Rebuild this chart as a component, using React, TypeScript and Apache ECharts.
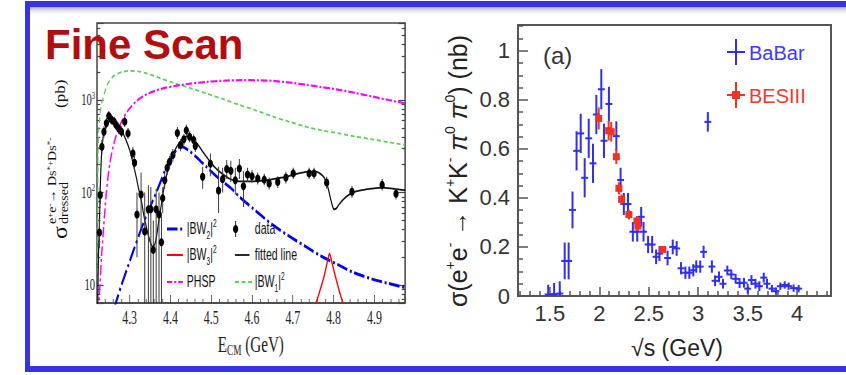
import React, { useEffect, useRef } from 'react';
import * as echarts from 'echarts';

// ---------------- Left panel (fine scan, log scale) ----------------
// [E (GeV), sigma (pb), lower, upper]
const fineScanData = [
  [4.226, 37, 25, 52], [4.228, 94, 75, 115], [4.232, 312, 260, 370], [4.237, 454, 390, 520],
  [4.243, 560, 490, 640], [4.249, 672, 590, 760], [4.255, 617, 540, 700], [4.262, 584, 510, 660],
  [4.267, 537, 470, 610], [4.273, 494, 430, 560], [4.28, 454, 395, 520], [4.288, 584, 510, 660],
  [4.296, 436, 380, 500], [4.308, 265, 225, 310], [4.312, 210, 170, 255], [4.318, 58, 20, 100],
  [4.328, 95, 40, 165], [4.337, 38, 5, 100], [4.346, 66, 5, 120], [4.352, 66, 5, 115],
  [4.358, 24, 5, 50], [4.365, 66, 5, 110], [4.372, 58, 5, 100], [4.378, 29, 5, 60],
  [4.381, 87, 60, 115], [4.386, 136, 110, 165], [4.392, 185, 155, 220], [4.398, 215, 180, 250],
  [4.406, 254, 215, 295], [4.417, 440, 380, 510], [4.425, 327, 280, 380], [4.433, 376, 325, 430],
  [4.439, 470, 410, 540], [4.447, 401, 350, 460], [4.457, 370, 320, 425], [4.461, 318, 275, 365],
  [4.479, 148, 110, 190], [4.498, 205, 150, 265], [4.518, 105, 60, 190], [4.528, 140, 100, 185],
  [4.538, 180, 140, 225], [4.548, 172, 130, 220], [4.559, 136, 95, 185], [4.569, 182, 140, 230],
  [4.579, 117, 70, 170], [4.589, 157, 130, 185], [4.6, 150, 128, 175], [4.614, 142, 122, 165],
  [4.63, 138, 120, 160], [4.642, 125, 108, 145], [4.663, 130, 112, 150], [4.683, 145, 125, 168],
  [4.701, 161, 140, 185], [4.74, 161, 140, 185], [4.752, 161, 140, 185], [4.783, 128, 110, 148],
  [4.845, 102, 88, 118], [4.919, 121, 105, 140], [4.953, 97, 84, 112],
];

const fittedLine = [
  [4.2215, 5], [4.2235, 20], [4.226, 45], [4.228, 110], [4.231, 250], [4.235, 400], [4.24, 500],
  [4.247, 580], [4.255, 610], [4.262, 590], [4.27, 540], [4.28, 470], [4.29, 380], [4.3, 290],
  [4.308, 210], [4.316, 148], [4.322, 110], [4.329, 80], [4.335, 56], [4.341, 42], [4.347, 33],
  [4.352, 28], [4.357, 26], [4.362, 28], [4.367, 36], [4.373, 55], [4.378, 75], [4.383, 105],
  [4.39, 150], [4.398, 205], [4.405, 250], [4.414, 305], [4.424, 355], [4.435, 395], [4.442, 405],
  [4.45, 395], [4.46, 360], [4.471, 313], [4.483, 262], [4.496, 220], [4.51, 185], [4.528, 158],
  [4.545, 141], [4.56, 134], [4.58, 132], [4.6, 132], [4.62, 134], [4.64, 137], [4.66, 142],
  [4.683, 148], [4.7, 155], [4.72, 163], [4.74, 168], [4.757, 168], [4.767, 160], [4.777, 145],
  [4.785, 118], [4.792, 88], [4.797, 72], [4.801, 66], [4.806, 67], [4.813, 74], [4.825, 85],
  [4.838, 95], [4.855, 103], [4.879, 108], [4.9, 111], [4.919, 113], [4.94, 111], [4.96, 108],
  [4.975, 106],
];

const bw1Line = [
  [4.2215, 5], [4.2225, 250], [4.224, 450], [4.227, 650], [4.23, 860], [4.235, 1050],
  [4.243, 1390], [4.25, 1600], [4.259, 1790], [4.27, 1930], [4.284, 2020], [4.3, 2070],
  [4.32, 2040], [4.34, 1950], [4.37, 1760], [4.406, 1540], [4.45, 1340], [4.488, 1180],
  [4.53, 1020], [4.569, 885], [4.61, 770], [4.65, 665], [4.69, 585], [4.732, 515], [4.77, 470],
  [4.813, 436], [4.85, 405], [4.895, 376], [4.935, 350], [4.975, 327],
];

const phspLine = [
  [4.2225, 5], [4.227, 9.6], [4.231, 20], [4.237, 46], [4.243, 100], [4.251, 200], [4.263, 360],
  [4.28, 580], [4.296, 770], [4.32, 1000], [4.345, 1170], [4.38, 1330], [4.42, 1440],
  [4.447, 1500], [4.49, 1570], [4.528, 1615], [4.577, 1640], [4.62, 1630], [4.65, 1610],
  [4.7, 1530], [4.732, 1460], [4.77, 1380], [4.813, 1290], [4.85, 1200], [4.895, 1090],
  [4.935, 1000], [4.975, 920],
];

const bw2Line = [
  [4.262, 5.5], [4.267, 6.6], [4.28, 10], [4.296, 16], [4.31, 24], [4.329, 41], [4.345, 62],
  [4.361, 90], [4.375, 128], [4.386, 170], [4.398, 220], [4.41, 268], [4.418, 300], [4.425, 315],
  [4.432, 310], [4.445, 285], [4.46, 250], [4.488, 190], [4.52, 140], [4.55, 110], [4.569, 90],
  [4.61, 63], [4.65, 45], [4.69, 34], [4.732, 26], [4.77, 20.5], [4.813, 16.4], [4.85, 13.6],
  [4.895, 11.6], [4.935, 10.4], [4.975, 9.4],
];

const bw3Line = [
  [4.752, 5.5], [4.765, 8.3], [4.777, 12.6], [4.786, 19], [4.79, 22], [4.794, 19], [4.804, 12.6],
  [4.815, 8.3], [4.828, 5.5],
];

const fineXRange = [4.22, 4.975];
const fineYRange = [6.4, 6800];
const logTickLabels: Record<number, string> = { 10: '{b|10}', 100: '{b|10}{sup|2}', 1000: '{b|10}{sup|3}' };

// ---------------- Right panel (K+K-pi0pi0) ----------------
// [sqrt(s) (GeV), sigma (nb), error]
const babarData = [
  [1.483, 0.006, 0.04], [1.543, 0.008, 0.045], [1.6, 0.01, 0.05], [1.65, 0.143, 0.075],
  [1.69, 0.143, 0.075], [1.729, 0.351, 0.075], [1.77, 0.592, 0.08], [1.812, 0.663, 0.08],
  [1.852, 0.482, 0.08], [1.893, 0.643, 0.08], [1.936, 0.541, 0.08], [1.97, 0.74, 0.08],
  [2.02, 0.843, 0.082], [2.047, 0.633, 0.07], [2.097, 0.783, 0.07], [2.172, 0.652, 0.06],
  [2.215, 0.473, 0.05], [2.248, 0.375, 0.045], [2.29, 0.375, 0.045], [2.339, 0.262, 0.04],
  [2.383, 0.262, 0.04], [2.423, 0.323, 0.04], [2.447, 0.262, 0.04], [2.493, 0.21, 0.035],
  [2.534, 0.21, 0.035], [2.574, 0.16, 0.03], [2.608, 0.173, 0.03], [2.69, 0.155, 0.03],
  [2.742, 0.2, 0.03], [2.782, 0.194, 0.03], [2.826, 0.113, 0.025], [2.87, 0.095, 0.025],
  [2.91, 0.095, 0.025], [2.95, 0.105, 0.025], [2.98, 0.12, 0.025], [3.02, 0.12, 0.025],
  [3.054, 0.18, 0.025], [3.097, 0.71, 0.04], [3.138, 0.12, 0.025], [3.17, 0.062, 0.022],
  [3.21, 0.078, 0.022], [3.25, 0.05, 0.02], [3.294, 0.104, 0.02], [3.334, 0.088, 0.02],
  [3.378, 0.07, 0.02], [3.418, 0.053, 0.02], [3.462, 0.054, 0.02], [3.5, 0.03, 0.02],
  [3.538, 0.065, 0.02], [3.578, 0.05, 0.02], [3.618, 0.04, 0.02], [3.662, 0.075, 0.02],
  [3.695, 0.05, 0.02], [3.745, 0.03, 0.015], [3.786, 0.02, 0.015], [3.83, 0.04, 0.015],
  [3.874, 0.045, 0.015], [3.914, 0.04, 0.015], [3.964, 0.032, 0.015], [4.015, 0.03, 0.015],
];

const besData = [
  [1.994, 0.724, 0.045], [2.094, 0.674, 0.04], [2.12, 0.67, 0.04], [2.172, 0.568, 0.03],
  [2.198, 0.439, 0.025], [2.225, 0.394, 0.02], [2.299, 0.332, 0.02], [2.38, 0.306, 0.02],
  [2.39, 0.285, 0.02], [2.641, 0.19, 0.012],
];

const kkXRange = [1.178, 4.342];
const kkYRange = [0, 1.105];
const babarHalfBin = 0.035;

// ---------------- styling ----------------
const S = 0.66; // horizontal squeeze of the left panel image
const LW = 846 / S;
const BLUE = '#2f2ff0';
const RED = '#ee3322';
const FRAME_BLUE = '#3434e4';

function buildLeft(): any {
  const serif = 'Liberation Serif, Times New Roman, serif';
  const sans = 'Liberation Sans, Arial, sans-serif';
  const axisCommon = {
    axisLine: { show: true, onZero: false, lineStyle: { color: '#444', width: 1.5 } },
    splitLine: { show: false },
  };
  const tickStyle = { color: '#444', width: 1.2 };
  const legendText = (x: number, y: number, text: string) => ({
    type: 'text', x, y,
    style: {
      text, fontFamily: sans, fontSize: 16, fill: '#111', verticalAlign: 'middle', align: 'left',
      rich: {
        t: { fontSize: 16, fontFamily: sans, fill: '#111', color: '#111', lineHeight: 22 },
        sub: { fontSize: 10, fontFamily: sans, fill: '#111', color: '#111', verticalAlign: 'bottom', lineHeight: 10 },
        sup: { fontSize: 10, fontFamily: sans, fill: '#111', color: '#111', verticalAlign: 'top', lineHeight: 10 },
      },
    },
  });
  const row = [229, 255, 282];
  const c1 = [253, 277], c1t = 283;
  const c2 = [356, 382], c2t = 386;
  return {
    animation: false,
    backgroundColor: '#ffffff',
    grid: { left: 97 / S, top: 23, width: 308 / S, height: 280, show: true, borderColor: '#444', borderWidth: 1.5, backgroundColor: 'transparent' },
    xAxis: {
      type: 'value', min: fineXRange[0], max: fineXRange[1], splitNumber: 8, minInterval: 0.1, maxInterval: 0.1,
      ...axisCommon,
      axisTick: { show: true, inside: true, length: 8, lineStyle: tickStyle },
      minorTick: { show: true, splitNumber: 5, length: 4, lineStyle: tickStyle },
      axisLabel: {
        showMinLabel: false, showMaxLabel: false, margin: 5, fontFamily: serif, fontSize: 18, color: '#222',
        formatter: (v: number) => { const r = Math.round(v * 10) / 10; return Math.abs(v - r) < 1e-6 ? r.toFixed(1) : ''; },
      },
    },
    yAxis: [
      {
        type: 'log', logBase: 10, min: fineYRange[0], max: fineYRange[1],
        ...axisCommon,
        axisTick: { show: true, inside: true, length: 10, lineStyle: tickStyle },
        minorTick: { show: true, splitNumber: 9, length: 5, lineStyle: tickStyle },
        axisLabel: {
          margin: 3, fontFamily: serif, fontSize: 16, color: '#222',
          formatter: (v: number) => {
            const key = Math.round(v);
            return Math.abs(v - key) < 1e-6 && logTickLabels[key] ? logTickLabels[key] : '';
          },
          rich: {
            b: { fontFamily: serif, fontSize: 16, color: '#222', lineHeight: 20 },
            sup: { fontFamily: serif, fontSize: 10, color: '#222', verticalAlign: 'top', lineHeight: 12 },
          },
        },
      },
      {
        type: 'log', logBase: 10, min: fineYRange[0], max: fineYRange[1], position: 'right',
        ...axisCommon,
        axisTick: { show: true, inside: true, length: 10, lineStyle: tickStyle },
        minorTick: { show: true, splitNumber: 9, length: 5, lineStyle: tickStyle },
        axisLabel: { show: false },
      },
    ],
    series: [
      { type: 'line', name: '|BW1|2', data: bw1Line, showSymbol: false, smooth: 0.3, clip: true, silent: true,
        lineStyle: { color: '#55d455', width: 1.8, type: [6, 4] }, z: 2 },
      { type: 'line', name: 'PHSP', data: phspLine, showSymbol: false, smooth: 0.3, clip: true, silent: true,
        lineStyle: { color: '#ff00ff', width: 2.2, type: [10, 3, 3, 3] }, z: 2 },
      { type: 'line', name: '|BW2|2', data: bw2Line, showSymbol: false, smooth: 0.3, clip: true, silent: true,
        lineStyle: { color: '#0000ee', width: 3, type: [16, 4, 3, 4] }, z: 3 },
      { type: 'line', name: '|BW3|2', data: bw3Line, showSymbol: false, smooth: 0.3, clip: true, silent: true,
        lineStyle: { color: '#ff0000', width: 2 }, z: 3 },
      { type: 'line', name: 'fitted line', data: fittedLine, showSymbol: false, smooth: 0.25, clip: true, silent: true,
        lineStyle: { color: '#111', width: 1.8 }, z: 4 },
      {
        type: 'custom', name: 'data', data: fineScanData, encode: { x: 0, y: 1 }, z: 5, silent: true,
        renderItem: (_p: any, api: any) => {
          const E = api.value(0), v = api.value(1), lo = api.value(2), hi = api.value(3);
          const c = api.coord([E, v]);
          const pl = api.coord([E, Math.max(lo, fineYRange[0])]);
          const ph = api.coord([E, Math.min(hi, fineYRange[1])]);
          return {
            type: 'group', children: [
              { type: 'line', shape: { x1: c[0], y1: pl[1], x2: c[0], y2: ph[1] }, style: { stroke: '#3a3a3a', lineWidth: 1.5 } },
              { type: 'circle', shape: { cx: c[0], cy: c[1], r: 4 }, style: { fill: '#000' } },
            ],
          };
        },
      },
    ],
    graphic: [
      // legend
      { type: 'line', shape: { x1: c1[0], y1: row[0], x2: c1[1], y2: row[0] }, style: { stroke: '#0000ee', lineWidth: 3, lineDash: [16, 4, 3, 4] } },
      legendText(c1t, row[0], '{t||BW}{sub|2}{t||}{sup|2}'),
      { type: 'line', shape: { x1: c1[0], y1: row[1], x2: c1[1], y2: row[1] }, style: { stroke: '#ff0000', lineWidth: 2 } },
      legendText(c1t, row[1], '{t||BW}{sub|3}{t||}{sup|2}'),
      { type: 'line', shape: { x1: c1[0], y1: row[2], x2: c1[1], y2: row[2] }, style: { stroke: '#ff00ff', lineWidth: 2.2, lineDash: [8, 3, 3, 3] } },
      legendText(c1t, row[2], '{t|PHSP}'),
      { type: 'line', shape: { x1: (c2[0] + c2[1]) / 2 - 12, y1: row[0] - 8, x2: (c2[0] + c2[1]) / 2 - 12, y2: row[0] + 8 }, style: { stroke: '#222', lineWidth: 1.5 } },
      { type: 'circle', shape: { cx: (c2[0] + c2[1]) / 2 - 12, cy: row[0], r: 4 }, style: { fill: '#000' } },
      legendText(c2t, row[0], '{t|data}'),
      { type: 'line', shape: { x1: c2[0], y1: row[1], x2: c2[1] - 4, y2: row[1] }, style: { stroke: '#111', lineWidth: 1.8 } },
      legendText(c2t, row[1], '{t|fitted line}'),
      { type: 'line', shape: { x1: c2[0], y1: row[2], x2: c2[1], y2: row[2] }, style: { stroke: '#55d455', lineWidth: 1.8, lineDash: [6, 4] } },
      legendText(c2t, row[2], '{t||BW}{sub|1}{t||}{sup|2}'),
      // x-axis title
      {
        type: 'text', x: 380, y: 344,
        style: {
          text: '{e|E}{s|CM}{e| (GeV)}', align: 'center', verticalAlign: 'middle', fill: '#222',
          rich: {
            e: { fontFamily: serif, fontSize: 23, fill: '#222', color: '#222', lineHeight: 26 },
            s: { fontFamily: serif, fontSize: 14, fill: '#222', color: '#222', verticalAlign: 'bottom', lineHeight: 14 },
          },
        },
      },
      // y-axis title (rotated); scaleY thickens glyphs across the squeeze
      {
        type: 'group', x: 91, y: 239, rotation: Math.PI / 2, scaleY: 1.35,
        children: [
          { type: 'text', x: 0, y: 0, style: { text: 'σ', fontFamily: serif, fontSize: 24, fill: '#111', align: 'left', verticalAlign: 'middle' } },
          {
            type: 'text', x: 15, y: -9,
            style: {
              text: '{a|e}{b|+}{a|e}{b|-}{a|→ Ds}{b|*+}{a|Ds}{b|*-}', align: 'left', verticalAlign: 'middle', fill: '#111',
              rich: {
                a: { fontFamily: serif, fontSize: 14, fill: '#111', color: '#111', lineHeight: 14 },
                b: { fontFamily: serif, fontSize: 9, fill: '#111', color: '#111', verticalAlign: 'top', lineHeight: 8 },
              },
            },
          },
          { type: 'text', x: 15, y: 4, style: { text: 'dressed', fontFamily: serif, fontSize: 14, fill: '#111', align: 'left', verticalAlign: 'middle' } },
          { type: 'text', x: 131, y: 0, style: { text: '(pb)', fontFamily: serif, fontSize: 17, fill: '#111', align: 'left', verticalAlign: 'middle' } },
        ],
      },
    ],
  };
}

function buildMain(): any {
  const sans = 'Liberation Sans, Arial, sans-serif';
  const axisLine = { show: true, onZero: false, lineStyle: { color: '#555', width: 2 } };
  const tickStyle = { color: '#555', width: 1.5 };
  const yTitleRich = {
    b: { fontFamily: sans, fontSize: 25, fill: '#222', color: '#222', lineHeight: 30 },
    p: { fontFamily: sans, fontSize: 25, fontStyle: 'italic', fill: '#222', color: '#222', lineHeight: 30 },
    s: { fontFamily: sans, fontSize: 14, fill: '#222', color: '#222', verticalAlign: 'top', lineHeight: 14 },
  };
  return {
    animation: false,
    backgroundColor: 'transparent',
    grid: { left: 518, top: 25, width: 313, height: 271, show: true, borderColor: '#555', borderWidth: 2, backgroundColor: 'transparent' },
    xAxis: {
      type: 'value', min: kkXRange[0], max: kkXRange[1], splitNumber: 6, minInterval: 0.5, maxInterval: 0.5,
      axisLine, splitLine: { show: false },
      axisTick: { show: true, inside: true, length: 9, lineStyle: tickStyle },
      minorTick: { show: true, splitNumber: 5, length: 5, lineStyle: tickStyle },
      axisLabel: {
        showMinLabel: false, showMaxLabel: false, margin: 6, fontFamily: sans, fontSize: 22, color: '#333',
        formatter: (v: number) => { const r = Math.round(v * 2) / 2; return Math.abs(v - r) < 1e-6 ? String(r) : ''; },
      },
    },
    yAxis: {
      type: 'value', min: kkYRange[0], max: kkYRange[1], interval: 0.2,
      axisLine, splitLine: { show: false },
      axisTick: { show: true, inside: true, length: 10, lineStyle: tickStyle },
      minorTick: { show: true, splitNumber: 4, length: 5, lineStyle: tickStyle },
      axisLabel: {
        showMaxLabel: false, margin: 8, fontFamily: sans, fontSize: 22, color: '#333',
        formatter: (v: number) => { const r = Math.round(v * 5) / 5; return Math.abs(v - r) < 1e-6 ? String(Math.round(r * 10) / 10) : ''; },
      },
    },
    series: [
      {
        type: 'custom', name: 'BaBar', data: babarData, encode: { x: 0, y: 1 }, z: 3, silent: true,
        renderItem: (_p: any, api: any) => {
          const E = api.value(0), v = api.value(1), e = api.value(2);
          const c = api.coord([E, v]);
          const l = api.coord([E - babarHalfBin, v]);
          const r = api.coord([E + babarHalfBin, v]);
          const lo = api.coord([E, Math.max(0, v - e)]);
          const hi = api.coord([E, v + e]);
          return {
            type: 'group', children: [
              { type: 'line', shape: { x1: l[0], y1: c[1], x2: r[0], y2: c[1] }, style: { stroke: BLUE, lineWidth: 2 } },
              { type: 'line', shape: { x1: c[0], y1: lo[1], x2: c[0], y2: hi[1] }, style: { stroke: BLUE, lineWidth: 2 } },
            ],
          };
        },
      },
      {
        type: 'custom', name: 'BESIII', data: besData, encode: { x: 0, y: 1 }, z: 4, silent: true,
        renderItem: (_p: any, api: any) => {
          const E = api.value(0), v = api.value(1), e = api.value(2);
          const c = api.coord([E, v]);
          const lo = api.coord([E, v - e]);
          const hi = api.coord([E, v + e]);
          return {
            type: 'group', children: [
              { type: 'line', shape: { x1: c[0], y1: lo[1], x2: c[0], y2: hi[1] }, style: { stroke: RED, lineWidth: 2 } },
              { type: 'rect', shape: { x: c[0] - 3.5, y: c[1] - 3.5, width: 7, height: 7 }, style: { fill: RED } },
            ],
          };
        },
      },
    ],
    graphic: [
      // blue frame
      { type: 'rect', shape: { x: 30, y: 7, width: 816, height: 9 },
        style: { fill: new echarts.graphic.LinearGradient(0, 0, 0, 1, [{ offset: 0, color: 'rgba(110,110,110,0.55)' }, { offset: 1, color: 'rgba(255,255,255,0)' }]) } },
      { type: 'rect', shape: { x: 25, y: 1, width: 821, height: 6 }, style: { fill: FRAME_BLUE } },
      { type: 'rect', shape: { x: 25, y: 1, width: 5, height: 371 }, style: { fill: FRAME_BLUE } },
      { type: 'rect', shape: { x: 25, y: 366, width: 821, height: 6 }, style: { fill: FRAME_BLUE } },
      // title
      { type: 'text', x: 45, y: 44, z: 10, style: { text: 'Fine Scan', fontFamily: sans, fontWeight: 'bold', fontSize: 42, fill: '#b30d0d', verticalAlign: 'middle', align: 'left' } },
      // (a)
      { type: 'text', x: 543, y: 55, style: { text: '(a)', fontFamily: sans, fontSize: 24, fill: '#333', verticalAlign: 'middle', align: 'left' } },
      // legend BaBar
      { type: 'line', shape: { x1: 727, y1: 52, x2: 745, y2: 52 }, style: { stroke: BLUE, lineWidth: 2 } },
      { type: 'line', shape: { x1: 736, y1: 39, x2: 736, y2: 65 }, style: { stroke: BLUE, lineWidth: 2 } },
      { type: 'text', x: 749, y: 53, style: { text: 'BaBar', fontFamily: sans, fontSize: 20, fill: '#3b3bff', verticalAlign: 'middle', align: 'left' } },
      // legend BESIII
      { type: 'line', shape: { x1: 727, y1: 95, x2: 745, y2: 95 }, style: { stroke: RED, lineWidth: 2 } },
      { type: 'line', shape: { x1: 736, y1: 82, x2: 736, y2: 108 }, style: { stroke: RED, lineWidth: 2 } },
      { type: 'rect', shape: { x: 732, y: 91, width: 8, height: 8 }, style: { fill: RED } },
      { type: 'text', x: 749, y: 96, style: { text: 'BESIII', fontFamily: sans, fontSize: 20, fill: '#ee3b2b', verticalAlign: 'middle', align: 'left' } },
      // axis titles
      { type: 'text', x: 677, y: 348, style: { text: '√s (GeV)', fontFamily: sans, fontSize: 23, fill: '#222', align: 'center', verticalAlign: 'middle' } },
      {
        type: 'group', x: 458, y: 171, rotation: Math.PI / 2,
        children: [{
          type: 'text', x: 0, y: 0,
          style: {
            text: '{b|σ(e}{s|+}{b|e}{s|-}{b| → K}{s|+}{b|K}{s|-}{b| }{p|π}{s|0}{b| }{p|π}{s|0}{b|) (nb)}',
            align: 'center', verticalAlign: 'middle', fill: '#222', rich: yTitleRich,
          },
        }],
      },
    ],
  };
}

export default function App() {
  const leftRef = useRef<HTMLDivElement>(null);
  const mainRef = useRef<HTMLDivElement>(null);
  useEffect(() => {
    const lc = echarts.init(leftRef.current!, undefined, { renderer: 'svg' });
    lc.setOption(buildLeft());
    const mc = echarts.init(mainRef.current!, undefined, { renderer: 'svg' });
    mc.setOption(buildMain());
    return () => { lc.dispose(); mc.dispose(); };
  }, []);
  return (
    <div style={{ position: 'fixed', left: 0, top: 0, width: 846, height: 375, background: '#fff', overflow: 'hidden' }}>
      <div ref={leftRef} style={{ position: 'absolute', left: 0, top: 0, width: LW, height: 375, transform: `scaleX(${S})`, transformOrigin: '0 0' }} />
      <div ref={mainRef} style={{ position: 'absolute', left: 0, top: 0, width: 846, height: 375 }} />
    </div>
  );
}
